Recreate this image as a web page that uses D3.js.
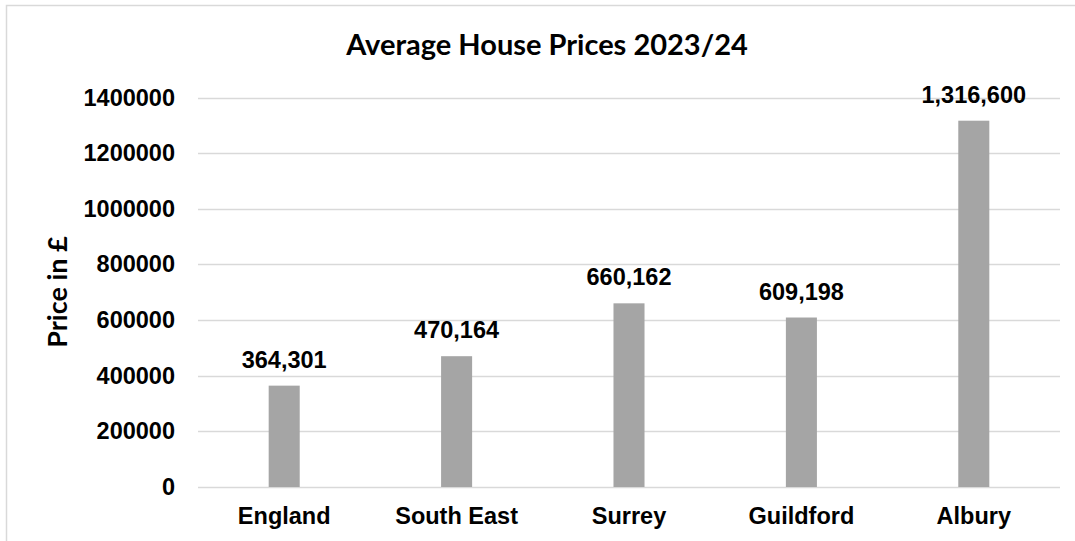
<!DOCTYPE html>
<html>
<head>
<meta charset="utf-8">
<script src="https://cdn.jsdelivr.net/npm/d3@7"></script>
<style>
  html, body { margin: 0; padding: 0; background: #fff; }
  svg { display: block; }
</style>
</head>
<body>
<div id="chart"></div>
<script>
var categories = ["England", "South East", "Surrey", "Guildford", "Albury"]
var prices = [364301, 470164, 660162, 609198, 1316600]
var yTicks = [0, 200000, 400000, 600000, 800000, 1000000, 1200000, 1400000]

var width = 1075,
    height = 541

var plotLeft = 198, plotRight = 1060, plotTop = 97.5, plotBottom = 487

var svg = d3.select("#chart")
    .append("svg")
    .attr("width", width)
    .attr("height", height)

// chart area border (only left/top visible in the picture)
svg.append("rect")
    .attr("x", 6.5)
    .attr("y", 5.5)
    .attr("width", 1200)
    .attr("height", 700)
    .attr("fill", "#fff")
    .attr("stroke", "#d9d9d9")
    .attr("stroke-width", 1.5)

var x = d3.scaleBand()
    .domain(categories)
    .range([plotLeft, plotRight])
    .paddingInner(0.82)
    .paddingOuter(0.41)

var y = d3.scaleLinear()
    .domain([0, 1400000])
    .range([plotBottom, plotTop])

// gridlines
svg.append("g")
    .selectAll("line")
    .data(yTicks)
    .enter()
    .append("line")
    .attr("x1", plotLeft)
    .attr("x2", plotRight)
    .attr("y1", d => Math.round(y(d)) + 0.5)
    .attr("y2", d => Math.round(y(d)) + 0.5)
    .attr("stroke", "#d9d9d9")
    .attr("stroke-width", 1.5)

// y axis labels
var yAxis = d3.axisLeft(y)
    .tickValues(yTicks)
    .tickFormat(d3.format("d"))
    .tickSize(0)
    .tickPadding(23)

svg.append("g")
    .attr("transform", "translate(" + plotLeft + ",0)")
    .call(yAxis)
    .call(g => g.select(".domain").remove())
    .selectAll("text")
    .attr("font-family", "'Liberation Sans', Arial, sans-serif")
    .attr("font-weight", "bold")
    .attr("font-size", "23.5px")
    .attr("fill", "#000")

// bars
svg.append("g")
    .selectAll("rect")
    .data(prices)
    .enter()
    .append("rect")
    .attr("x", (d, i) => x(categories[i]))
    .attr("y", d => y(d))
    .attr("width", x.bandwidth())
    .attr("height", d => y(0) - y(d))
    .attr("fill", "#a5a5a5")

// value labels
svg.append("g")
    .selectAll("text")
    .data(prices)
    .enter()
    .append("text")
    .attr("x", (d, i) => x(categories[i]) + x.bandwidth() / 2)
    .attr("y", d => y(d) - 18)
    .attr("text-anchor", "middle")
    .attr("font-family", "'Liberation Sans', Arial, sans-serif")
    .attr("font-weight", "bold")
    .attr("font-size", "23.5px")
    .attr("fill", "#000")
    .text(d => d3.format(",")(d))

// x axis labels
var xAxis = d3.axisBottom(x)
    .tickSize(0)
    .tickPadding(0)

svg.append("g")
    .attr("transform", "translate(0," + plotBottom + ")")
    .call(xAxis)
    .call(g => g.select(".domain").remove())
    .selectAll("text")
    .attr("dy", null)
    .attr("y", 37)
    .attr("font-family", "'Liberation Sans', Arial, sans-serif")
    .attr("font-weight", "bold")
    .attr("font-size", "23.5px")
    .attr("fill", "#000")

// title
svg.append("text")
    .attr("x", 547)
    .attr("y", 55)
    .attr("text-anchor", "middle")
    .attr("font-family", "Lato, sans-serif")
    .attr("font-weight", "bold")
    .attr("font-size", "29px")
    .attr("fill", "#000")
    .text("Average House Prices 2023/24")

// y axis title
svg.append("text")
    .attr("transform", "translate(67,292) rotate(-90)")
    .attr("text-anchor", "middle")
    .attr("font-family", "Lato, sans-serif")
    .attr("font-weight", "bold")
    .attr("font-size", "27px")
    .attr("fill", "#000")
    .text("Price in £")
</script>
</body>
</html>
